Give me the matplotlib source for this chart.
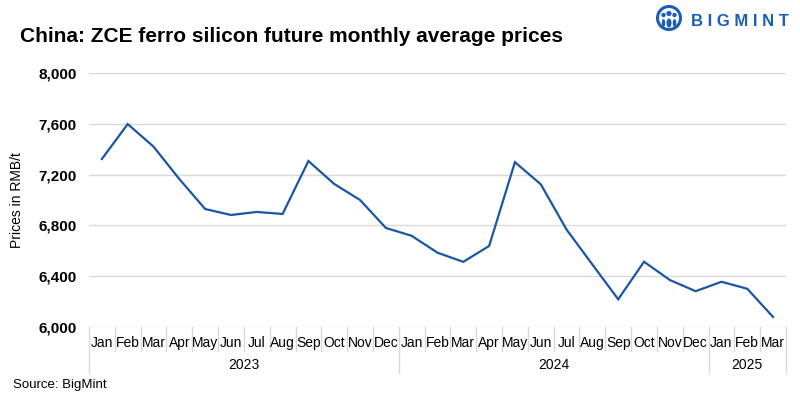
import matplotlib.pyplot as plt
from matplotlib.patches import Circle, Ellipse
import matplotlib.transforms as mtransforms

plt.rcParams['font.family'] = ['Liberation Sans', 'DejaVu Sans']

months = ["Jan", "Feb", "Mar", "Apr", "May", "Jun", "Jul", "Aug", "Sep", "Oct", "Nov", "Dec",
          "Jan", "Feb", "Mar", "Apr", "May", "Jun", "Jul", "Aug", "Sep", "Oct", "Nov", "Dec",
          "Jan", "Feb", "Mar"]
years = ["2023", "2024", "2025"]
year_counts = [12, 12, 3]
prices = [7323, 7598, 7420, 7165, 6929, 6882, 6906, 6890, 7307, 7126, 7000, 6780,
          6718, 6585, 6513, 6638, 7298, 7124, 6767, 6492, 6218, 6514, 6370, 6282,
          6356, 6301, 6079]
yticks = [6000, 6400, 6800, 7200, 7600, 8000]

line_color = "#1a56a3"
grid_color = "#d9d9d9"

fig = plt.figure(figsize=(8, 3.98), dpi=100)
ax = fig.add_axes([89 / 800, 71 / 398, 697 / 800, 254 / 398])

x = list(range(len(prices)))
ax.plot(x, prices, color=line_color, lw=1.6, solid_joinstyle="miter")

ax.set_xlim(-0.5, len(prices) - 0.5)
ax.set_ylim(6000, 8000)
ax.set_yticks(yticks)
ax.set_yticklabels([f"{v:,}" for v in yticks], fontsize=11, fontweight="bold")
ax.yaxis.grid(True, color=grid_color, lw=1)
ax.set_axisbelow(True)
ax.tick_params(axis="y", length=0, pad=9)
ax.set_xticks([])
for s in ax.spines.values():
    s.set_visible(False)

# category axis with month / year separators
trans = mtransforms.blended_transform_factory(ax.transData, ax.transAxes)
boundaries = [-0.5]
for c in year_counts:
    boundaries.append(boundaries[-1] + c)
for i in range(1, len(months)):
    xb = i - 0.5
    if xb in boundaries:
        continue
    ax.plot([xb, xb], [0, -0.095], color=grid_color, lw=1, transform=trans, clip_on=False)
for xb in boundaries:
    ax.plot([xb, xb], [0, -0.181], color=grid_color, lw=1, transform=trans, clip_on=False)
for i, m in enumerate(months):
    ax.text(i, -0.062, m, transform=trans, ha="center", va="center", fontsize=10)
for j, yr in enumerate(years):
    mid = (boundaries[j] + boundaries[j + 1]) / 2
    ax.text(mid, -0.15, yr, transform=trans, ha="center", va="center", fontsize=10)

fig.text(20 / 800, 1 - 36 / 398, "China: ZCE ferro silicon future monthly average prices",
         fontsize=15, fontweight="bold", va="center", ha="left")
fig.text(17 / 800, 1 - 200 / 398, "Prices in RMB/t", rotation=90, fontsize=10,
         va="center", ha="center")
fig.text(13 / 800, 1 - 385 / 398, "Source: BigMint", fontsize=9.5, va="center", ha="left")

# logo
logo_blue = "#1a5eb8"
lax = fig.add_axes([654 / 800, 1 - 33 / 398, 30 / 800, 28 / 398])
lax.set_xlim(0, 30)
lax.set_ylim(0, 28)
lax.set_aspect("equal")
lax.axis("off")
lax.add_patch(Circle((15, 15), 11.5, fc="none", ec=logo_blue, lw=2.2))
lax.add_patch(Circle((15, 19.5), 2.6, fc=logo_blue, ec="none"))
lax.add_patch(Circle((9.5, 18), 2.2, fc=logo_blue, ec="none"))
lax.add_patch(Circle((20.5, 18), 2.2, fc=logo_blue, ec="none"))
lax.add_patch(Ellipse((15, 10), 5, 9, fc=logo_blue, ec="none"))
lax.add_patch(Ellipse((9.5, 10), 3.5, 8, fc=logo_blue, ec="none"))
lax.add_patch(Ellipse((20.5, 10), 3.5, 8, fc=logo_blue, ec="none"))
fig.text(691 / 800, 1 - 21 / 398, "B I G M I N T", fontsize=12, fontweight="bold",
         color=logo_blue, va="center", ha="left")

fig.savefig("out.png", dpi=100)
